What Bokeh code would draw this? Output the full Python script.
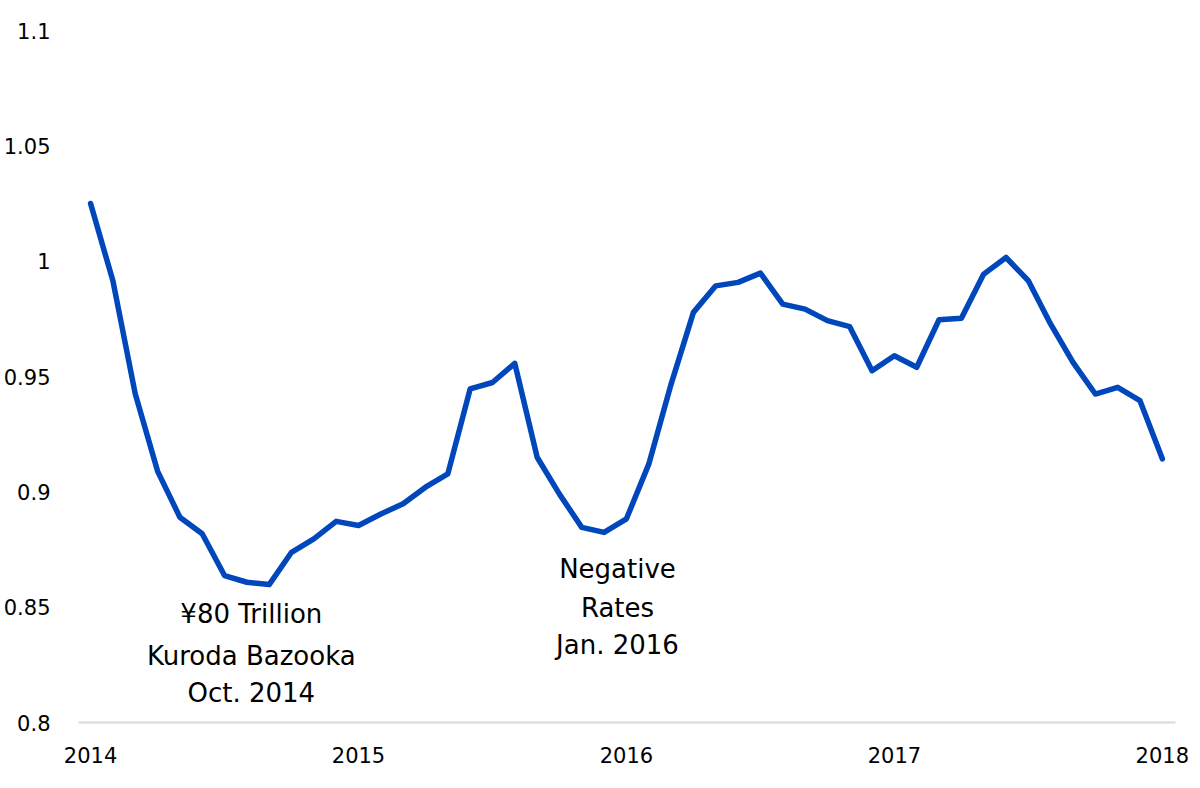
from bokeh.plotting import figure
from bokeh.models import FixedTicker, Range1d, ColumnDataSource
from bokeh.core.properties import value
from bokeh.embed import file_html
from bokeh.resources import INLINE

# Monthly values, Jan 2014 .. Jan 2018 (month index 0..48)
values_2014 = [1.025, 0.9915, 0.9425, 0.909, 0.889, 0.8818, 0.8637, 0.8608, 0.8598, 0.8738, 0.8796, 0.8872]
values_2015 = [0.8854, 0.8904, 0.8948, 0.902, 0.9078, 0.9446, 0.9474, 0.9557, 0.915, 0.899, 0.8846, 0.8824]
values_2016 = [0.8883, 0.912, 0.9467, 0.9778, 0.9893, 0.9908, 0.9948, 0.9814, 0.9792, 0.9742, 0.9716, 0.9525]
values_2017 = [0.959, 0.954, 0.9746, 0.9753, 0.9944, 1.0016, 0.9915, 0.9727, 0.9561, 0.9424, 0.9453, 0.9395]
values_2018 = [0.9143]

values = values_2014 + values_2015 + values_2016 + values_2017 + values_2018
months = list(range(len(values)))

x_tick_positions = [0, 12, 24, 36, 48]
x_tick_labels = ["2014", "2015", "2016", "2017", "2018"]
y_tick_positions = [0.8, 0.85, 0.9, 0.95, 1.0, 1.05, 1.1]
y_tick_labels = ["0.8", "0.85", "0.9", "0.95", "1", "1.05", "1.1"]

annotation_text = ["¥80 Trillion", "Kuroda Bazooka", "Oct. 2014",
                   "Negative", "Rates", "Jan. 2016"]
annotation_x = [7.2, 7.2, 7.2, 23.6, 23.6, 23.6]
annotation_y = [0.8472, 0.829, 0.813, 0.8667, 0.8498, 0.8334]

p = figure(width=1192, height=780, output_backend="svg", toolbar_location=None,
           x_range=Range1d(-0.54, 48.59), y_range=Range1d(0.8, 1.1),
           min_border_left=77, min_border_right=17, min_border_top=30, min_border_bottom=58)
p.outline_line_color = None
p.xgrid.grid_line_color = None
p.ygrid.grid_line_color = None
p.background_fill_color = "white"
p.border_fill_color = "white"

p.line(months, values, line_color="#0047BB", line_width=5.5, line_join="round", line_cap="round")

src = ColumnDataSource(dict(x=annotation_x, y=annotation_y, t=annotation_text))
p.text(x="x", y="y", text="t", source=src, text_align="center", text_baseline="middle",
       text_font=value("DejaVu Sans"), text_font_size="26px", text_color="#000000")

xa = p.xaxis[0]
xa.ticker = FixedTicker(ticks=x_tick_positions)
xa.major_label_overrides = {k: v for k, v in zip(x_tick_positions, x_tick_labels)}
xa.axis_line_color = "#d9d9d9"
xa.axis_line_width = 2
xa.major_tick_line_color = None
xa.minor_tick_line_color = None
xa.major_label_standoff = 18
xa.major_label_text_font = "DejaVu Sans"
xa.major_label_text_font_size = "21px"
xa.major_label_text_color = "#000000"

ya = p.yaxis[0]
ya.ticker = FixedTicker(ticks=y_tick_positions)
ya.major_label_overrides = {k: v for k, v in zip(y_tick_positions, y_tick_labels)}
ya.axis_line_color = None
ya.major_tick_line_color = None
ya.minor_tick_line_color = None
ya.major_label_standoff = 22
ya.major_label_text_font = "DejaVu Sans"
ya.major_label_text_font_size = "21px"
ya.major_label_text_color = "#000000"

open("out.html", "w").write(file_html(p, INLINE))
